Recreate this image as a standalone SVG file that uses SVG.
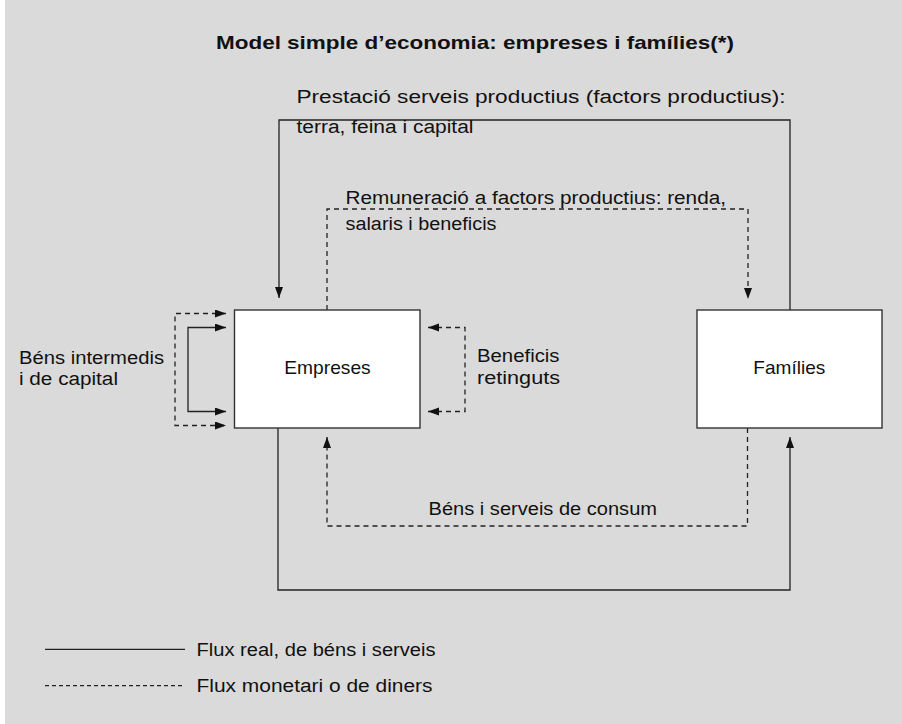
<svg xmlns="http://www.w3.org/2000/svg" width="902" height="724" viewBox="0 0 902 724">
<style>
  .bg { fill: #dadada; }
  .box { fill: #ffffff; stroke: #333333; stroke-width: 1.4; }
  .solid { fill: none; stroke: #222222; stroke-width: 1.3; }
  .dash { fill: none; stroke: #222222; stroke-width: 1.3; stroke-dasharray: 5 4; }
  .legdash { fill: none; stroke: #222222; stroke-width: 1.3; stroke-dasharray: 4 3; }
  text { font-family: "Liberation Sans", "Open Sans", sans-serif; fill: #111111; font-size: 18px; }
  .title { font-weight: bold; font-size: 19px; }
  .node { font-size: 19px; }
</style>
<defs>
  <marker id="arr" markerUnits="userSpaceOnUse" markerWidth="12" markerHeight="9" refX="11" refY="4" orient="auto-start-reverse">
    <path d="M0,0 L11,4 L0,8 z" fill="#111111"/>
  </marker>
</defs>
<rect class="bg" x="5" y="0" width="897" height="724"/>
<text class="title" x="216" y="49" textLength="518" lengthAdjust="spacingAndGlyphs">Model simple d’economia: empreses i famílies(*)</text>

<g id="connectors">
  <path class="solid" d="M790,310 V120 H279 V298" marker-end="url(#arr)"/>
  <path class="dash" d="M327,310 V209 H748 V299" marker-end="url(#arr)"/>
  <path class="solid" d="M278,428 V590 H790 V437" marker-end="url(#arr)"/>
  <path class="dash" d="M747.5,428 V526 H327 V437" marker-end="url(#arr)"/>
  <path class="dash" d="M226,313.5 H175 V425.5 H226" marker-start="url(#arr)" marker-end="url(#arr)"/>
  <path class="solid" d="M226,327.5 H188 V411.5 H226" marker-start="url(#arr)" marker-end="url(#arr)"/>
  <path class="dash" d="M428,327.5 H465 V411.5 H428" marker-start="url(#arr)" marker-end="url(#arr)"/>
</g>

<g id="labels">
  <text x="296.5" y="103" textLength="489" lengthAdjust="spacingAndGlyphs">Prestació serveis productius (factors productius):</text>
  <text x="296.5" y="133" textLength="177" lengthAdjust="spacingAndGlyphs">terra, feina i capital</text>
  <text x="345.5" y="204" textLength="380.5" lengthAdjust="spacingAndGlyphs">Remuneració a factors productius: renda,</text>
  <text x="345.5" y="230" textLength="151" lengthAdjust="spacingAndGlyphs">salaris i beneficis</text>
  <text x="19" y="363.5" textLength="145" lengthAdjust="spacingAndGlyphs">Béns intermedis</text>
  <text x="19" y="384.5" textLength="99" lengthAdjust="spacingAndGlyphs">i de capital</text>
  <text x="477" y="362" textLength="82.5" lengthAdjust="spacingAndGlyphs">Beneficis</text>
  <text x="477" y="383.5" textLength="83" lengthAdjust="spacingAndGlyphs">retinguts</text>
  <text x="428.6" y="515" textLength="228.4" lengthAdjust="spacingAndGlyphs">Béns i serveis de consum</text>
</g>

<g id="empreses">
  <rect class="box" x="234.5" y="310" width="185.5" height="118"/>
  <text class="node" x="284.3" y="374" textLength="86.4" lengthAdjust="spacingAndGlyphs">Empreses</text>
</g>
<g id="families">
  <rect class="box" x="697" y="310" width="185" height="118"/>
  <text class="node" x="753.3" y="374" textLength="72" lengthAdjust="spacingAndGlyphs">Famílies</text>
</g>

<g id="legend">
  <line class="solid" x1="45" y1="649.3" x2="185" y2="649.3"/>
  <text x="196.5" y="656" textLength="239" lengthAdjust="spacingAndGlyphs">Flux real, de béns i serveis</text>
  <line class="legdash" x1="45" y1="685.7" x2="185" y2="685.7"/>
  <text x="196.5" y="692" textLength="236" lengthAdjust="spacingAndGlyphs">Flux monetari o de diners</text>
</g>
</svg>
